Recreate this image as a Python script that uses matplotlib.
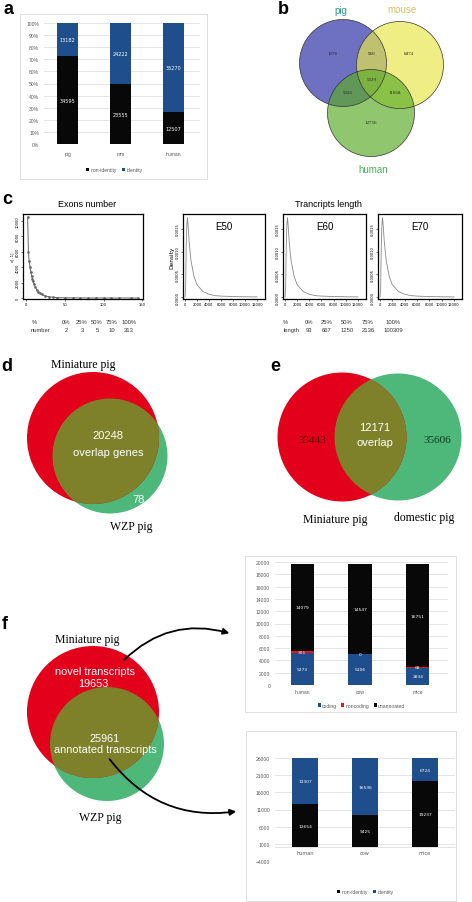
import numpy as np
import matplotlib
matplotlib.use('Agg')
import matplotlib.pyplot as plt
from matplotlib.patches import Circle, Rectangle, FancyArrowPatch

W, H = 472, 903

# ---- data ----
# a: identity of pig transcripts vs other species
a_species = ['pig', 'mm', 'human']
a_nonident = [34595, 23555, 12507]
a_ident = [13182, 24222, 35270]

# b: venn of pig / mouse / human
b_names = ['pig', 'mouse', 'human']
# pig only, pig&mouse, mouse only, all, pig&human, mouse&human, human only
b_counts = [1376, 960, 6874, 5320, 5326, 11668, 12756]

# c: exon number frequency and transcript length density
exon_n = [2, 3, 4, 5, 6, 7, 8, 9, 10, 12, 14, 16, 18, 20, 25, 30, 35, 40, 50, 60,
          70, 80, 90, 100, 110, 120, 135, 145]
exon_freq = [10500, 6000, 4800, 4000, 3400, 2900, 2500, 2150, 1850, 1400, 1050, 800,
             620, 480, 260, 150, 90, 55, 25, 12, 8, 5, 4, 3, 2, 1, 1, 1]
len_x = [0, 100, 200, 300, 400, 500, 700, 1000, 1500, 2000, 3000, 4000, 5000, 6000,
         8000, 10000, 12000]
len_density = [0, 0.0002, 0.0011, 0.0016, 0.00175, 0.0016, 0.0012, 0.0008, 0.00045,
               0.00027, 0.00012, 0.00006, 0.00003, 0.00002, 0.00001, 0.000005, 0.000002]
c_samples = ['E50', 'E60', 'E70']
pct_labels = ['0%', '25%', '50%', '75%', '100%']
exon_q = [2, 3, 5, 10, 313]
len_q = [93, 667, 1250, 2136, 100309]

# d, e, f venns
d_overlap, d_wzp_only = 20248, 78
e_mini, e_overlap, e_domestic = 33443, 12171, 35606
f_novel, f_annot = 19653, 25961

# f charts
f_species = ['human', 'cow', 'mice']
f1_coding = [5273, 5106, 2834]
f1_noncoding = [301, 0, 68]
f1_unannot = [14079, 14547, 16751]
f2_nonident = [12654, 9425, 19237]
f2_ident = [13307, 16536, 6724]

BLUE = '#1f4e8c'
BLACK = '#080808'
RED = '#e3001b'
GREEN = '#4db87a'
OLIVE = '#7e8129'
SANS = 'Liberation Sans'
SERIF = 'Liberation Serif'

fig = plt.figure(figsize=(W / 100, H / 100), dpi=100)


def px_axes(l, t, w, h):
    return fig.add_axes([l / W, 1 - (t + h) / H, w / W, h / H])


def excel_style(ax):
    for s in ax.spines.values():
        s.set_visible(False)
    ax.tick_params(length=0, labelsize=3.6, colors='#595959')
    ax.yaxis.grid(True, color='#d9d9d9', lw=0.5)
    ax.set_axisbelow(True)
    ax.set_facecolor('none')
    for lab in ax.get_xticklabels() + ax.get_yticklabels():
        lab.set_family(SANS)


def r_style(ax):
    for s in ax.spines.values():
        s.set_linewidth(0.9)
    ax.tick_params(labelsize=2.6, length=1.5, width=0.4, pad=1)
    ax.tick_params(axis='y', labelrotation=90)
    for lab in ax.get_yticklabels():
        lab.set_va('center')


# ---- a ----
ax = px_axes(44, 24, 156, 121)
x = np.arange(len(a_species))
tot = np.array(a_nonident) + np.array(a_ident)
b1 = ax.bar(x, np.array(a_nonident) / tot, 0.4, color=BLACK, label='non-identity')
b2 = ax.bar(x, np.array(a_ident) / tot, 0.4, bottom=np.array(a_nonident) / tot,
            color=BLUE, label='identity')
ax.bar_label(b1, labels=[str(v) for v in a_nonident], label_type='center',
             color='white', fontsize=3.6)
ax.bar_label(b2, labels=[str(v) for v in a_ident], label_type='center',
             color='white', fontsize=3.6)
ax.set_xlim(-0.45, 2.5)
ax.set_ylim(0, 1)
ax.set_yticks(np.arange(0, 1.01, 0.1))
ax.set_yticklabels([f'{int(round(v * 100))}%' for v in np.arange(0, 1.01, 0.1)])
ax.set_xticks(x)
ax.set_xticklabels(a_species)
excel_style(ax)
ax.tick_params(axis='x', pad=5)
ax.legend(loc='center', bbox_to_anchor=(0.45, -0.21), ncol=2, frameon=False,
          prop={'family': SANS, 'size': 3.6}, handlelength=0.6, handleheight=0.6,
          handletextpad=0.3, columnspacing=1.0, labelcolor='#595959')

# ---- c ----
ax = px_axes(23, 215, 120, 85)
ax.plot(exon_n, exon_freq, color='#666666', lw=0.7, marker='o', ms=0.9)
ax.set_xlim(-4, 151)
ax.set_ylim(-130, 10900)
ax.set_xticks([0, 50, 100, 150])
ax.set_yticks(np.arange(0, 10001, 2000))
ax.set_ylabel('x[, 1]', fontsize=2.6, labelpad=1)
r_style(ax)

for i, (name, left, w) in enumerate(zip(c_samples, [183, 283, 378], [82, 83, 84])):
    ax = px_axes(left, 215, w, 85)
    ax.plot(len_x, len_density, color='#888888', lw=0.6)
    ax.set_xlim(-333, 13333)
    ax.set_ylim(-0.000044, 0.00183)
    ax.set_xticks(np.arange(0, 12001, 2000))
    ax.set_yticks([0, 0.0005, 0.001, 0.0015])
    ax.set_yticklabels(['0.0000', '0.0005', '0.0010', '0.0015'])
    ax.text(0.5, 0.86, name, transform=ax.transAxes, ha='center', va='center',
            fontsize=7, family=SANS)
    if i == 0:
        ax.set_ylabel('Density', fontsize=4.2, labelpad=1)
    r_style(ax)

# ---- f1 ----
ax = px_axes(275, 563, 173, 123)
x = np.arange(len(f_species))
c1 = ax.bar(x, f1_coding, 0.4, color=BLUE, label='coding')
c2 = ax.bar(x, f1_noncoding, 0.4, bottom=f1_coding, color='#e8141c', label='noncoding')
c3 = ax.bar(x, f1_unannot, 0.4, bottom=np.array(f1_coding) + np.array(f1_noncoding),
            color=BLACK, label='unannoated')
for c, vals in [(c1, f1_coding), (c2, f1_noncoding), (c3, f1_unannot)]:
    ax.bar_label(c, labels=[str(v) for v in vals], label_type='center',
                 color='white', fontsize=3.2)
ax.set_xlim(-0.47, 2.52)
ax.set_ylim(0, 20000)
ax.set_yticks(np.arange(0, 20001, 2000))
ax.set_xticks(x)
ax.set_xticklabels(f_species)
excel_style(ax)
ax.tick_params(axis='x', pad=3)
ax.legend(loc='center', bbox_to_anchor=(0.5, -0.165), ncol=3, frameon=False,
          prop={'family': SANS, 'size': 3.6}, handlelength=0.6, handleheight=0.6,
          handletextpad=0.3, columnspacing=0.8, labelcolor='#595959')

# ---- f2 ----
ax = px_axes(275, 759, 180, 103)
x = np.arange(len(f_species))
d1 = ax.bar(x, f2_nonident, 0.42, color=BLACK, label='non-identity')
d2 = ax.bar(x, f2_ident, 0.42, bottom=f2_nonident, color=BLUE, label='identity')
ax.bar_label(d1, labels=[str(v) for v in f2_nonident], label_type='center',
             color='white', fontsize=3.2)
ax.bar_label(d2, labels=[str(v) for v in f2_ident], label_type='center',
             color='white', fontsize=3.2)
ax.set_xlim(-0.5, 2.5)
ax.set_ylim(-4000, 26000)
ax.set_yticks(np.arange(-4000, 26001, 5000))
ax.set_xticks(x)
ax.set_xticklabels(f_species)
excel_style(ax)
ax.spines['bottom'].set_visible(True)
ax.spines['bottom'].set_position(('data', 0))
ax.spines['bottom'].set_color('#d9d9d9')
ax.spines['bottom'].set_linewidth(0.5)
ax.tick_params(axis='x', pad=2)
ax.legend(loc='center', bbox_to_anchor=(0.5, -0.30), ncol=2, frameon=False,
          prop={'family': SANS, 'size': 3.6}, handlelength=0.6, handleheight=0.6,
          handletextpad=0.3, columnspacing=1.0, labelcolor='#595959')

# ---- overlay: venns, labels, frames, arrows ----
ov = fig.add_axes([0, 0, 1, 1], zorder=5)
ov.set_xlim(0, W)
ov.set_ylim(H, 0)
ov.axis('off')
ov.patch.set_alpha(0)

# chart frames
for (l, t, r, b) in [(20, 15, 207, 180), (245, 557, 456, 713), (246, 732, 456, 902)]:
    ov.add_patch(Rectangle((l, t), r - l, b - t, fill=False, ec='#d9d9d9', lw=0.6))

# panel letters
for lab, (lx, ly) in zip('abcdef', [(8, 10), (283, 10), (7, 200), (7, 367), (275, 367), (5, 625)]):
    ov.text(lx, ly, lab, fontsize=13, fontweight='bold', family=SANS, ha='center', va='center')

# b venn
b_centers = [(343, 64), (400, 66), (371, 114)]
b_fill = ['#2a2ca4', '#e7e74a', '#5bac2a']
for (cx, cy), col in zip(b_centers, b_fill):
    ov.add_patch(Circle((cx, cy), 43.5, fc=col, alpha=0.68, ec='none'))
for (cx, cy) in b_centers:
    ov.add_patch(Circle((cx, cy), 43.5, fill=False, ec='#333333', lw=0.5))
b_name_pos = [(341, 11), (402, 10), (373, 170)]
b_name_col = ['#2c9a8a', '#d8c060', '#4cb060']
for name, (tx, ty), col in zip(b_names, b_name_pos, b_name_col):
    ov.text(tx, ty, name, color=col, fontsize=7, family=SANS, ha='center', va='center')
b_pos = [(333, 54), (372, 54), (409, 54), (372, 80), (348, 93), (395, 93), (371, 123)]
for v, (tx, ty) in zip(b_counts, b_pos):
    ov.text(tx, ty, str(v), fontsize=3.6, family=SERIF, ha='center', va='center', color='#222222')

# c titles and quantile tables
ov.text(87, 205, 'Exons number', fontsize=6.5, family=SANS, ha='center', va='center')
ov.text(328, 205, 'Trancripts length', fontsize=6.5, family=SANS, ha='center', va='center')
qkw = dict(fontsize=4.2, family=SANS, ha='center', va='center', color='#333333')
ov.text(32, 323, '%', ha='left', fontsize=4.2, family=SANS, va='center', color='#333333')
ov.text(41, 331, 'number', **qkw)
for p, v, qx in zip(pct_labels, exon_q, [66, 82, 97, 112, 129]):
    ov.text(qx, 323, p, **qkw)
    ov.text(qx, 331, str(v), **qkw)
ov.text(283, 323, '%', ha='left', fontsize=4.2, family=SANS, va='center', color='#333333')
ov.text(292, 331, 'length', **qkw)
for p, v, qx in zip(pct_labels, len_q, [309, 327, 347, 368, 393]):
    ov.text(qx, 323, p, **qkw)
    ov.text(qx, 331, str(v), **qkw)


def two_venn(red_c, red_r, green_c, green_r):
    g = Circle(green_c, green_r, fc=GREEN, ec='none')
    r = Circle(red_c, red_r, fc=RED, ec='none')
    o = Circle(green_c, green_r, fc=OLIVE, ec='none')
    ov.add_patch(g)
    ov.add_patch(r)
    ov.add_patch(o)
    o.set_clip_path(r)


# d
two_venn((93, 439), 66, (110, 457), 57.5)
ov.text(83, 365, 'Miniature pig', fontsize=8.5, family=SERIF, ha='center', va='center')
ov.text(108, 436, str(d_overlap), fontsize=8, family=SANS, color='white', ha='center', va='center')
ov.text(108, 453, 'overlap genes', fontsize=8, family=SANS, color='white', ha='center', va='center')
ov.text(139, 500, str(d_wzp_only), fontsize=8, family=SANS, color='white', ha='center', va='center')
ov.text(131, 527, 'WZP pig', fontsize=8.5, family=SERIF, ha='center', va='center')

# e
two_venn((342, 438), 64.5, (398, 438), 63.5)
ov.text(312, 441, str(e_mini), fontsize=8, family=SERIF, color='#5a0000', ha='center', va='center')
ov.text(375, 428, str(e_overlap), fontsize=8, family=SANS, color='white', ha='center', va='center')
ov.text(375, 443, 'overlap', fontsize=8, family=SANS, color='white', ha='center', va='center')
ov.text(437, 441, str(e_domestic), fontsize=8, family=SERIF, color='#0f3a1f', ha='center', va='center')
ov.text(335, 520, 'Miniature pig', fontsize=8.5, family=SERIF, ha='center', va='center')
ov.text(424, 518, 'domestic pig', fontsize=8.5, family=SERIF, ha='center', va='center')

# f
two_venn((93, 713), 66, (107, 745), 57)
ov.text(87, 640, 'Miniature pig', fontsize=8.5, family=SERIF, ha='center', va='center')
ov.text(95, 672, 'novel transcripts', fontsize=7.8, family=SANS, color='white', ha='center', va='center')
ov.text(93, 684, str(f_novel), fontsize=7.8, family=SANS, color='white', ha='center', va='center')
ov.text(105, 739, str(f_annot), fontsize=7.8, family=SANS, color='white', ha='center', va='center')
ov.text(105, 750, 'annotated transcripts', fontsize=7.8, family=SANS, color='white', ha='center', va='center')
ov.text(100, 818, 'WZP pig', fontsize=8.5, family=SERIF, ha='center', va='center')

ov.add_patch(FancyArrowPatch((122, 663), (232, 635), connectionstyle='arc3,rad=-0.3',
                             arrowstyle='-|>', mutation_scale=9, lw=1.3, color='black'))
ov.add_patch(FancyArrowPatch((108, 758), (239, 812), connectionstyle='arc3,rad=0.3',
                             arrowstyle='-|>', mutation_scale=9, lw=1.3, color='black'))

fig.savefig('out.png', dpi=100, facecolor='white')
